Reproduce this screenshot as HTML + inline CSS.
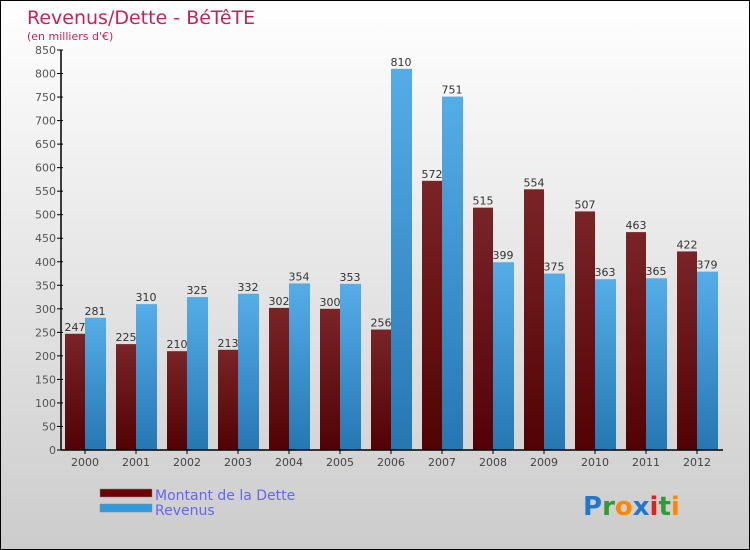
<!DOCTYPE html>
<html><head><meta charset="utf-8"><style>
body{margin:0}
#c{position:relative;width:748px;height:548px;border:1px solid #000;background:linear-gradient(#ffffff,#cccccc);font-family:"DejaVu Sans","Liberation Sans",sans-serif;overflow:hidden}
</style></head><body>
<div id="c">
<svg width="748" height="548" xmlns="http://www.w3.org/2000/svg">
<defs>
<linearGradient id="gd" x1="0" y1="0" x2="0" y2="1"><stop offset="0" stop-color="#7a2428"/><stop offset="1" stop-color="#520204"/></linearGradient>
<linearGradient id="gr" x1="0" y1="0" x2="0" y2="1"><stop offset="0" stop-color="#55ade8"/><stop offset="1" stop-color="#2577b2"/></linearGradient>
</defs>
<text x="26" y="23" font-size="19" fill="#c0245a">Revenus/Dette - BéTêTE</text>
<text x="26" y="39" font-size="11" fill="#c0245a">(en milliers d'€)</text>
<g id="plot"></g>
<g>
<rect x="99" y="488" width="52" height="8" fill="#6a0206" stroke="#888" stroke-width="0.5"/>
<text x="154" y="499" font-size="14" fill="#6666ee">Montant de la Dette</text>
<rect x="99" y="503" width="52" height="8" fill="#3399dd" stroke="#888" stroke-width="0.5"/>
<text x="154" y="514" font-size="14" fill="#6666ee">Revenus</text>
</g>
<text x="582" y="514" font-size="26" font-weight="bold"><tspan fill="#2277cc">P</tspan><tspan fill="#339933">r</tspan><tspan fill="#ff8800">o</tspan><tspan fill="#2277cc">x</tspan><tspan fill="#dd2222">i</tspan><tspan fill="#339933">t</tspan><tspan fill="#ff8800">i</tspan></text>
</svg>
</div>
<script>
const years=["2000","2001","2002","2003","2004","2005","2006","2007","2008","2009","2010","2011","2012"];
const dette=[247,225,210,213,302,300,256,572,515,554,507,463,422];
const revenus=[281,310,325,332,354,353,810,751,399,375,363,365,379];
const yTicks=[0,50,100,150,200,250,300,350,400,450,500,550,600,650,700,750,800,850];
const NS="http://www.w3.org/2000/svg";
const g=document.getElementById('plot');
const y0=449,yMax=850,yTop=49;
function Y(v){return y0-(v/yMax)*(y0-yTop);}
function X(i){return 84+i*51;}
function mk(t,a){const e=document.createElementNS(NS,t);for(const k in a)e.setAttribute(k,a[k]);g.appendChild(e);return e;}
yTicks.forEach(v=>{
 const l=mk('line',{x1:56,x2:62,y1:Y(v),y2:Y(v),stroke:'#000'});
 
 
 const t=mk('text',{x:55,y:Y(v)+4,'font-size':11,fill:'#555','text-anchor':'end'});
 t.textContent=v;
 
 
});
years.forEach((yr,i)=>{
 const cx=X(i);
 const b1=mk('rect',{x:cx-20,y:Y(dette[i]),width:20,height:y0-Y(dette[i]),fill:'url(#gd)'});
 
 
 const b2=mk('rect',{x:cx,y:Y(revenus[i]),width:21,height:y0-Y(revenus[i]),fill:'url(#gr)'});
 
 
 const t1=mk('text',{x:cx-10,y:Y(dette[i])-3,'font-size':11,fill:'#333','text-anchor':'middle'});
 t1.textContent=dette[i];
 
 
 const t2=mk('text',{x:cx+10,y:Y(revenus[i])-3,'font-size':11,fill:'#333','text-anchor':'middle'});
 t2.textContent=revenus[i];
 
 
 const tk=mk('line',{x1:cx,x2:cx,y1:y0,y2:y0+4,stroke:'#000'});
 
 
 const xl=mk('text',{x:cx,y:y0+16,'font-size':11,fill:'#444','text-anchor':'middle'});
 xl.textContent=yr;
 
 
});
const ya=mk('line',{x1:60,x2:60,y1:yTop,y2:y0,stroke:'#000','stroke-width':1.5});


const xa=mk('line',{x1:60,x2:722,y1:y0,y2:y0,stroke:'#000','stroke-width':1.5});


</script>
</body></html>
